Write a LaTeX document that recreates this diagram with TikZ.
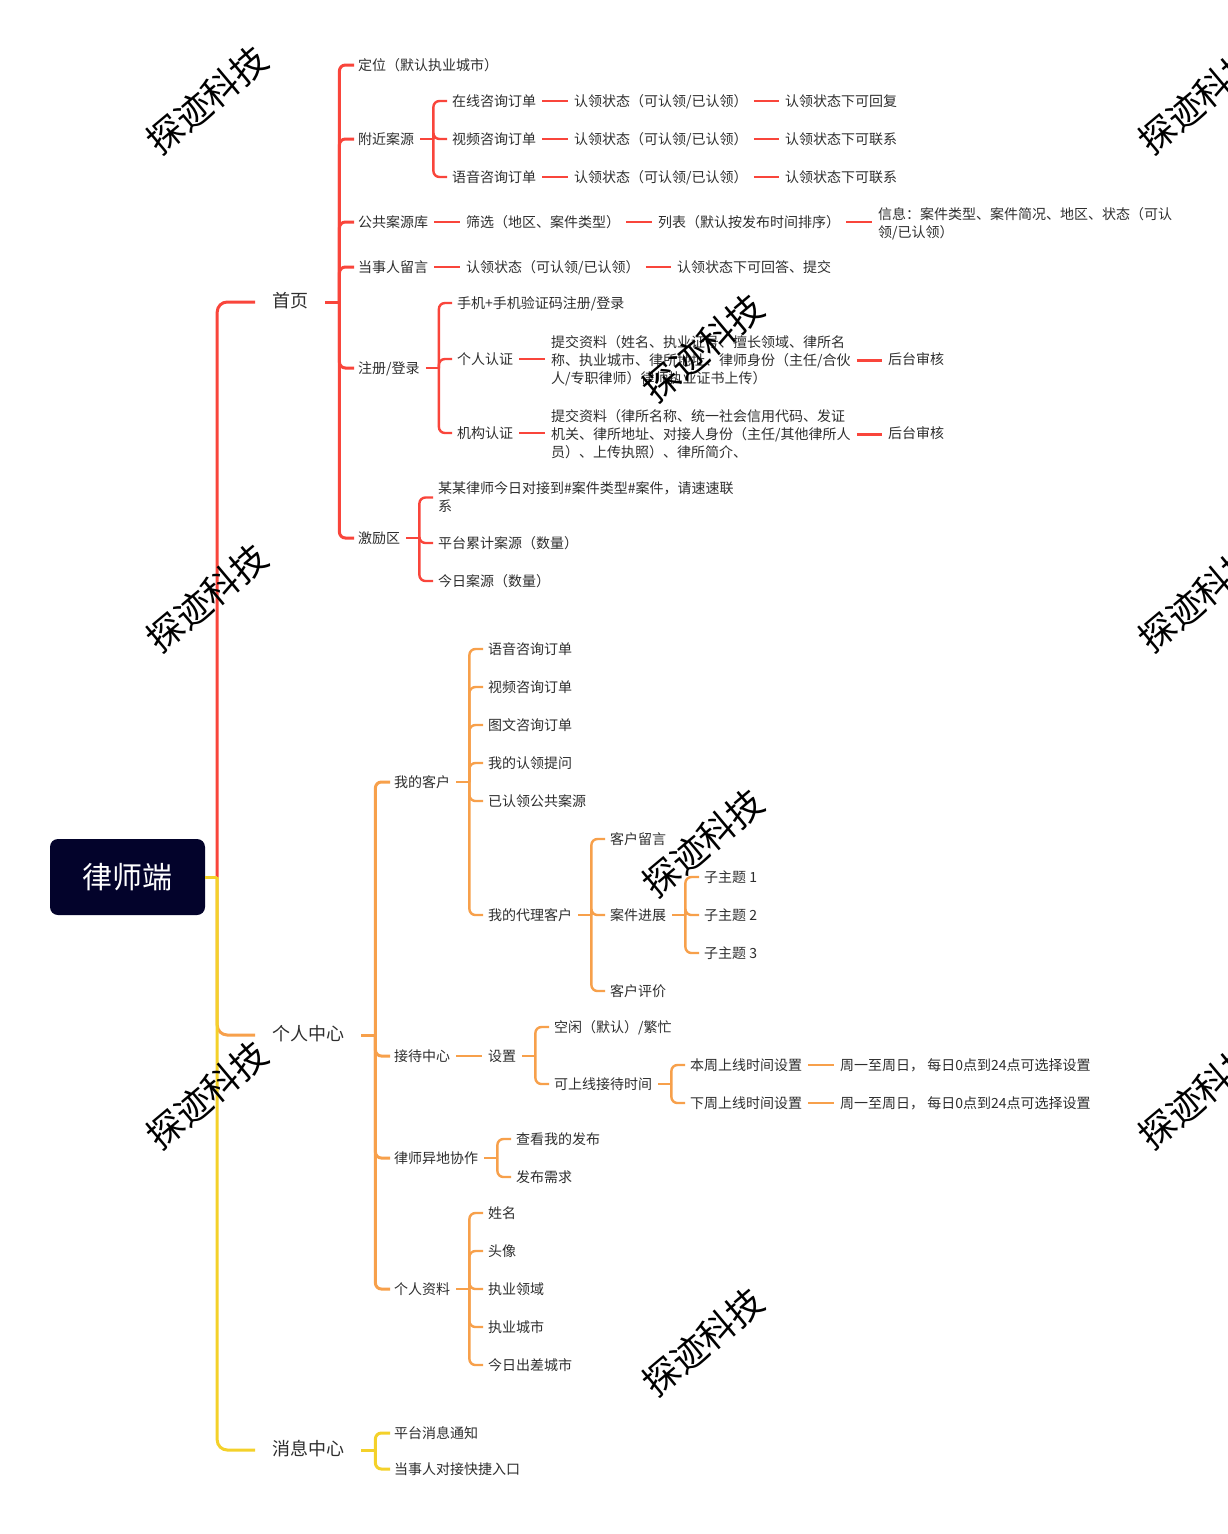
\documentclass[tikz,border=0pt]{standalone}
\usepackage{fontspec}
\setmainfont{Noto Sans CJK SC}
\definecolor{cred}{HTML}{F9453B}
\definecolor{corg}{HTML}{F7A04B}
\definecolor{cyel}{HTML}{F4D12A}
\definecolor{cnavy}{HTML}{03032B}
\definecolor{txt}{HTML}{2E2E2E}
\tikzset{
  t/.style={anchor=west, inner sep=0pt, font=\fontsize{14}{18}\selectfont, text=txt, text height=1.14em, text depth=0.06em},
  ml/.style={anchor=west, inner sep=0pt, font=\fontsize{14}{18}\selectfont, text=txt, align=left, yshift=-1.5pt},
  mt/.style={anchor=west, inner sep=0pt, font=\fontsize{18}{22}\selectfont, text=txt, text height=1.14em, text depth=0.06em},
  wm/.style={rotate=40, inner sep=0pt, font=\fontsize{36}{36}\selectfont, text=black},
  rl/.style={draw=cred, line width=2.4pt},
  ol/.style={draw=corg, line width=2.4pt},
  yl/.style={draw=cyel, line width=2.4pt},
  rt/.style={draw=cred, line width=3pt},
  ot/.style={draw=corg, line width=3pt},
  yt/.style={draw=cyel, line width=3pt},
}
% bracket with several children: style, parent, children
\newcommand\kids[3]{%
  \draw[#1] ([xshift=6pt]#2.east) -- ++(13pt,0pt) coordinate (#2-b);
  \foreach \c in {#3}{\draw[#1, rounded corners=6pt] (#2-b) |- ([xshift=-5pt]\c.west);}
}
\newcommand\kidsL[3]{%
  \draw[#1] ([xshift=17pt]#2.east) -- ++(14pt,0pt) coordinate (#2-b);
  \foreach \c in {#3}{\draw[#1, rounded corners=6pt] (#2-b) |- ([xshift=-4pt]\c.west);}
}
% straight link, kept horizontal at the parent's height
\newcommand\lnk[3]{\draw[#1] ([xshift=6pt]#2.east) -- ([xshift=-6pt]#2.east -| #3.west);}
\begin{document}
\begin{tikzpicture}[x=1pt,y=-1pt]
\useasboundingbox (0,0) rectangle (1228,1534);
\fill[white] (0,0) rectangle (1228,1534);
\clip (0,0) rectangle (1228,1534);

% root
\node[fill=cnavy, rounded corners=8pt, minimum width=155pt, minimum height=76pt, inner sep=0pt,
      text=white, font=\fontsize{30}{34}\selectfont] (root) at (127.5,877) {律师端};

% main topics
\node[mt] (home) at (272,302) {首页};
\node[mt] (pc) at (272,1035) {个人中心};
\node[mt] (msg) at (272,1450) {消息中心};

% ---------- 首页 ----------
\node[t] (h1) at (358,65) {定位（默认执业城市）};
\node[t] (h2) at (358,139) {附近案源};
\node[t] (h3) at (358,222) {公共案源库};
\node[t] (h4) at (358,267) {当事人留言};
\node[t] (h5) at (358,368) {注册/登录};
\node[t] (h6) at (358,538) {激励区};

\node[t] (h21) at (452,101) {在线咨询订单};
\node[t] (h22) at (452,139) {视频咨询订单};
\node[t] (h23) at (452,177) {语音咨询订单};
\node[t] (h21a) at (574,101) {认领状态（可认领/已认领）};
\node[t] (h22a) at (574,139) {认领状态（可认领/已认领）};
\node[t] (h23a) at (574,177) {认领状态（可认领/已认领）};
\node[t] (h21b) at (785,101) {认领状态下可回复};
\node[t] (h22b) at (785,139) {认领状态下可联系};
\node[t] (h23b) at (785,177) {认领状态下可联系};

\node[t] (h31) at (466,222) {筛选（地区、案件类型）};
\node[t] (h32) at (658,222) {列表（默认按发布时间排序）};
\node[ml] (h33) at (878,222) {信息：案件类型、案件简况、地区、状态（可认\\领/已认领）};

\node[t] (h41) at (466,267) {认领状态（可认领/已认领）};
\node[t] (h42) at (677,267) {认领状态下可回答、提交};

\node[t] (h51) at (457,303) {手机+手机验证码注册/登录};
\node[t] (h52) at (457,359) {个人认证};
\node[t] (h53) at (457,433) {机构认证};
\node[ml] (h52a) at (551,359) {提交资料（姓名、执业证号、擅长领域、律所名\\称、执业城市、律所地址、律师身份（主任/合伙\\人/专职律师）律师执业证书上传）};
\node[ml] (h53a) at (551,433) {提交资料（律所名称、统一社会信用代码、发证\\机关、律所地址、对接人身份（主任/其他律所人\\员）、上传执照）、律所简介、};
\node[t] (h52b) at (888,359) {后台审核};
\node[t] (h53b) at (888,433) {后台审核};

\node[ml] (h61) at (438,496) {某某律师今日对接到\#案件类型\#案件，请速速联\\系};
\node[t] (h62) at (438,543) {平台累计案源（数量）};
\node[t] (h63) at (438,581) {今日案源（数量）};

% ---------- 个人中心 ----------
\node[t] (p1) at (394,782) {我的客户};
\node[t] (p2) at (394,1056) {接待中心};
\node[t] (p3) at (394,1158) {律师异地协作};
\node[t] (p4) at (394,1289) {个人资料};

\node[t] (p11) at (488,649) {语音咨询订单};
\node[t] (p12) at (488,687) {视频咨询订单};
\node[t] (p13) at (488,725) {图文咨询订单};
\node[t] (p14) at (488,763) {我的认领提问};
\node[t] (p15) at (488,801) {已认领公共案源};
\node[t] (p16) at (488,915) {我的代理客户};

\node[t] (p161) at (610,839) {客户留言};
\node[t] (p162) at (610,915) {案件进展};
\node[t] (p163) at (610,991) {客户评价};

\node[t] (s1) at (704,877) {子主题 1};
\node[t] (s2) at (704,915) {子主题 2};
\node[t] (s3) at (704,953) {子主题 3};

\node[t] (p21) at (488,1056) {设置};
\node[t] (p211) at (554,1027) {空闲（默认）/繁忙};
\node[t] (p212) at (554,1084) {可上线接待时间};
\node[t] (p2121) at (690,1065) {本周上线时间设置};
\node[t] (p2122) at (690,1103) {下周上线时间设置};
\node[t] (p2121a) at (840,1065) {周一至周日， 每日0点到24点可选择设置};
\node[t] (p2122a) at (840,1103) {周一至周日， 每日0点到24点可选择设置};

\node[t] (p31) at (516,1139) {查看我的发布};
\node[t] (p32) at (516,1177) {发布需求};

\node[t] (p41) at (488,1213) {姓名};
\node[t] (p42) at (488,1251) {头像};
\node[t] (p43) at (488,1289) {执业领域};
\node[t] (p44) at (488,1327) {执业城市};
\node[t] (p45) at (488,1365) {今日出差城市};

% ---------- 消息中心 ----------
\node[t] (m1) at (394,1433) {平台消息通知};
\node[t] (m2) at (394,1469) {当事人对接快捷入口};

% ---------- trunk ----------
\coordinate (tr) at ([xshift=12pt]root.east);
\draw[rt, rounded corners=10pt] (tr) |- ([xshift=-17pt]home.west);
\draw[ot, rounded corners=10pt] (tr) |- ([xshift=-17pt]pc.west);
\draw[yt, rounded corners=10pt] (tr) |- ([xshift=-17pt]msg.west);
\draw[yt] (root.east) -- (tr);

% ---------- connectors 首页 ----------
\kidsL{rt}{home}{h1,h2,h3,h4,h5,h6}
\kids{rl}{h2}{h21,h22,h23}
\lnk{rl}{h21}{h21a}\lnk{rl}{h22}{h22a}\lnk{rl}{h23}{h23a}
\lnk{rl}{h21a}{h21b}\lnk{rl}{h22a}{h22b}\lnk{rl}{h23a}{h23b}
\lnk{rl}{h3}{h31}\lnk{rl}{h31}{h32}\lnk{rl}{h32}{h33}
\lnk{rl}{h4}{h41}\lnk{rl}{h41}{h42}
\kids{rl}{h5}{h51,h52,h53}
\lnk{rl}{h52}{h52a}\lnk{rl}{h52a}{h52b}
\lnk{rl}{h53}{h53a}\lnk{rl}{h53a}{h53b}
\kids{rl}{h6}{h61,h62,h63}

% ---------- connectors 个人中心 ----------
\kidsL{ot}{pc}{p1,p2,p3,p4}
\kids{ol}{p1}{p11,p12,p13,p14,p15,p16}
\kids{ol}{p16}{p161,p162,p163}
\kids{ol}{p162}{s1,s2,s3}
\lnk{ol}{p2}{p21}
\kids{ol}{p21}{p211,p212}
\kids{ol}{p212}{p2121,p2122}
\lnk{ol}{p2121}{p2121a}\lnk{ol}{p2122}{p2122a}
\kids{ol}{p3}{p31,p32}
\kids{ol}{p4}{p41,p42,p43,p44,p45}

% ---------- connectors 消息中心 ----------
\kidsL{yt}{msg}{m1,m2}

% ---------- watermarks ----------
\node[wm] (w1) at (207,100) {探迹科技};
\node[wm] (w2) at (207,598) {探迹科技};
\node[wm] (w3) at (207,1095) {探迹科技};
\node[wm] (w4) at (703,348) {探迹科技};
\node[wm] (w5) at (703,843) {探迹科技};
\node[wm] (w6) at (703,1342) {探迹科技};
\node[wm] (w7) at (1199,100) {探迹科技};
\node[wm] (w8) at (1199,598) {探迹科技};
\node[wm] (w9) at (1199,1095) {探迹科技};
\end{tikzpicture}
\end{document}
